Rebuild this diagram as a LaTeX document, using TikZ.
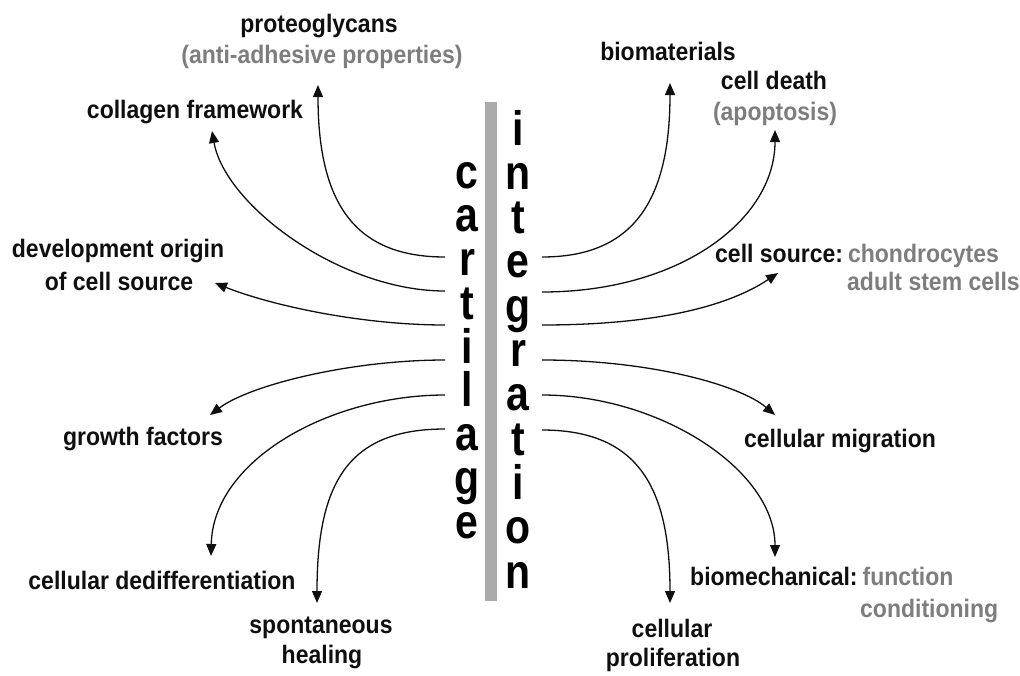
\documentclass[tikz,border=0pt]{standalone}
\usepackage{fontspec}
\setmainfont{Liberation Sans}
\usetikzlibrary{arrows.meta}
\definecolor{lbl}{RGB}{15,15,15}
\definecolor{subc}{RGB}{125,125,125}
\definecolor{barc}{RGB}{170,170,170}
\newcommand{\bgl}[1]{\scalebox{1}[1.18]{\fontsize{41}{41}\selectfont\bfseries #1}}
\newcommand{\sx}[1]{\scalebox{1}[1.1]{#1}}
\tikzset{
  lab/.style={font=\fontsize{23}{27}\selectfont\bfseries, text=lbl, inner sep=0pt, anchor=base},
  labw/.style={lab, anchor=base west},
  sublab/.style={lab, text=subc},
  sublabw/.style={labw, text=subc},
  bigch/.style={inner sep=0pt, anchor=base, text=black},
  conn/.style={line width=1.3pt, draw=lbl, -{Triangle[length=12pt,width=10pt]}},
}
\begin{document}
\begin{tikzpicture}[x=1pt,y=-1pt]
\useasboundingbox (0,0) rectangle (1020,675);
% central bar
\node[fill=barc, minimum width=12pt, minimum height=499pt, inner sep=0pt] (bar) at (491,351.5) {};
% vertical words
\foreach \ch [count=\k from 0] in {c,a,r,t,i,l,a,g,e}
  \node[bigch] (cart\k) at (467,{188+43.75*\k}) {\bgl{\ch}};
\foreach \ch [count=\k from 0] in {i,n,t,e,g,r,a,t,i,o,n}
  \node[bigch] (integ\k) at (518,{145+44.3*\k}) {\bgl{\ch}};
% start points
\coordinate (sL1) at (445,257);
\coordinate (sL2) at (445,291);
\coordinate (sL3) at (445,325);
\coordinate (sL4) at (445,360);
\coordinate (sL5) at (445,395);
\coordinate (sL6) at (445,429);
\coordinate (sR1) at (542,257);
\coordinate (sR2) at (542,292);
\coordinate (sR3) at (542,325);
\coordinate (sR4) at (542,360);
\coordinate (sR5) at (542,395);
\coordinate (sR6) at (542,430);
% arrow tips
\coordinate (tL1) at (318,85);
\coordinate (tL2) at (212,131);
\coordinate (tL3) at (215,283);
\coordinate (tL4) at (210,415);
\coordinate (tL5) at (211,556);
\coordinate (tL6) at (317,603);
\coordinate (tR1) at (670,83);
\coordinate (tR2) at (775,130);
\coordinate (tR3) at (778,273);
\coordinate (tR4) at (775,415);
\coordinate (tR5) at (775,557);
\coordinate (tR6) at (670,603);
% labels left
\node[lab] (proteo) at (319,32) {\sx{proteoglycans}};
\node[sublab] (antiad) at (322,63) {\sx{(anti-adhesive properties)}};
\node[lab] (collagen) at (195,118) {\sx{collagen framework}};
\node[lab] (devorig) at (118,257) {\sx{development origin}};
\node[lab] (ofcell) at (119,290) {\sx{of cell source}};
\node[lab] (growth) at (143,445) {\sx{growth factors}};
\node[lab] (dediff) at (162,589) {\sx{cellular dedifferentiation}};
\node[lab] (spont) at (321,633) {\sx{spontaneous}};
\node[lab] (healing) at (322,663) {\sx{healing}};
% labels right
\node[lab] (biomat) at (668,60) {\sx{biomaterials}};
\node[lab] (death) at (774,89) {\sx{cell death}};
\node[sublab] (apopt) at (775,120) {\sx{(apoptosis)}};
\node[labw] (csource) at (715,262) {\sx{cell source:\hspace{0.22em}\textcolor{subc}{chondrocytes}}};
\node[sublabw] (adult) at (847,290) {\sx{adult stem cells}};
\node[lab] (migr) at (840,447) {\sx{cellular migration}};
\node[labw] (biomech) at (690,585) {\sx{biomechanical:\hspace{0.22em}\textcolor{subc}{function}}};
\node[sublabw] (cond) at (860,617) {\sx{conditioning}};
\node[lab] (cellular) at (672,637) {\sx{cellular}};
\node[lab] (prolif) at (673,666) {\sx{proliferation}};
% connectors
\draw[conn] (sL1) .. controls (356,257) and (318,205) .. (tL1);
\draw[conn] (sL2) .. controls (340,291) and (225,205) .. (tL2);
\draw[conn] (sL3) .. controls (360,325) and (270,305) .. (tL3);
\draw[conn] (sL4) .. controls (350,360) and (250,385) .. (tL4);
\draw[conn] (sL5) .. controls (330,395) and (213,460) .. (tL5);
\draw[conn] (sL6) .. controls (350,429) and (317,480) .. (tL6);
\draw[conn] (sR1) .. controls (630,257) and (670,205) .. (tR1);
\draw[conn] (sR2) .. controls (680,292) and (775,220) .. (tR2);
\draw[conn] (sR3) .. controls (660,325) and (730,305) .. (tR3);
\draw[conn] (sR4) .. controls (650,360) and (740,385) .. (tR4);
\draw[conn] (sR5) .. controls (660,395) and (775,470) .. (tR5);
\draw[conn] (sR6) .. controls (640,430) and (670,490) .. (tR6);
\end{tikzpicture}
\end{document}
